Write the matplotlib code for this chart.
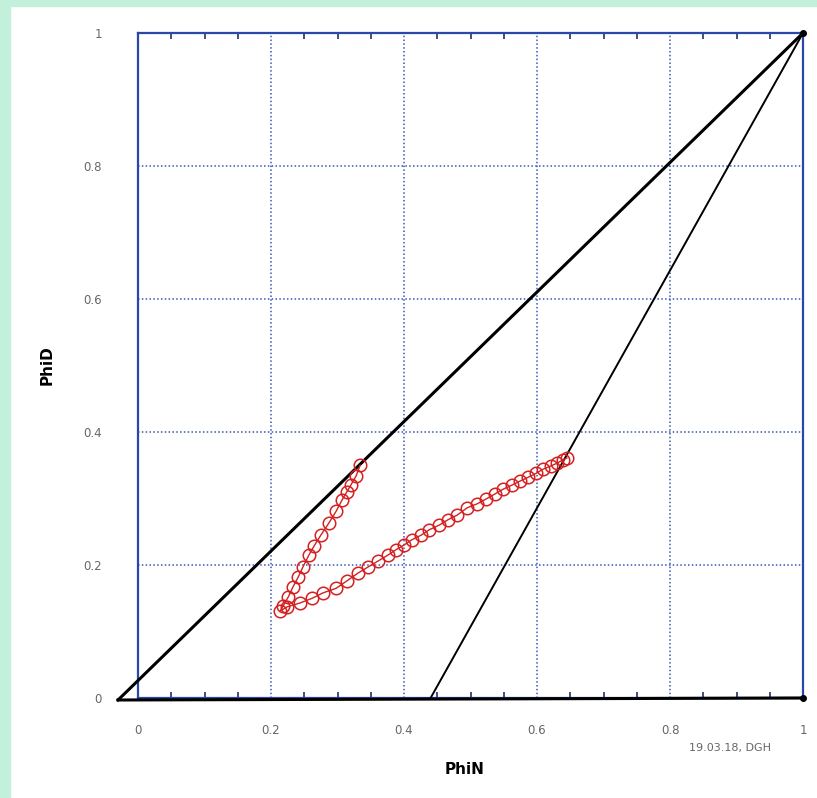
import matplotlib
matplotlib.use("Agg")
import matplotlib.pyplot as plt
from matplotlib.patches import Rectangle
from matplotlib.ticker import MultipleLocator

# ---- data ----
upper_x = [0.334, 0.328, 0.320, 0.314, 0.307, 0.298, 0.287, 0.275, 0.265, 0.257,
           0.248, 0.241, 0.233, 0.226, 0.218]
upper_y = [0.350, 0.334, 0.320, 0.310, 0.298, 0.281, 0.263, 0.245, 0.229, 0.215,
           0.197, 0.182, 0.167, 0.152, 0.138]
lower_x = [0.214, 0.224, 0.244, 0.262, 0.278, 0.298, 0.314, 0.331, 0.346, 0.361,
           0.376, 0.388, 0.400, 0.412, 0.426, 0.438, 0.453, 0.466, 0.480, 0.495,
           0.510, 0.523, 0.537, 0.549, 0.562, 0.574, 0.587, 0.599, 0.609, 0.621,
           0.630, 0.639, 0.645]
lower_y = [0.131, 0.137, 0.143, 0.150, 0.158, 0.165, 0.176, 0.188, 0.197, 0.206,
           0.215, 0.223, 0.230, 0.238, 0.245, 0.253, 0.260, 0.268, 0.275, 0.286,
           0.292, 0.299, 0.307, 0.314, 0.320, 0.326, 0.332, 0.338, 0.344, 0.349,
           0.353, 0.358, 0.361]
path_x = upper_x + lower_x
path_y = upper_y + lower_y

# reference lines
sand_x = [-0.03, 1.0]
sand_y = [-0.003, 1.0]
shale_x = [-0.03, 1.0]
shale_y = [-0.003, 0.0]
dolo_x = [0.44, 1.0]
dolo_y = [0.0, 1.0]

ticks = [0, 0.2, 0.4, 0.6, 0.8, 1]
tick_labels = ["0", "0.2", "0.4", "0.6", "0.8", "1"]

W, H = 817, 798
fig = plt.figure(figsize=(W / 100, H / 100), dpi=100)
fig.patch.set_facecolor("white")
green = "#c2f0da"
fig.patches.append(Rectangle((0, 0), 10 / W, 1, transform=fig.transFigure,
                             color=green, zorder=0))
fig.patches.append(Rectangle((0, 1 - 6 / H), 1, 6 / H, transform=fig.transFigure,
                             color=green, zorder=0))

ax = fig.add_axes([138 / W, 1 - 698 / H, 665 / W, 665 / H])
ax.set_xlim(0, 1)
ax.set_ylim(0, 1)

blue = "#2a48a8"
for s in ax.spines.values():
    s.set_color(blue)
    s.set_linewidth(1.6)

ax.set_xticks(ticks)
ax.set_xticklabels(tick_labels)
ax.set_yticks(ticks)
ax.set_yticklabels(tick_labels)
ax.xaxis.set_minor_locator(MultipleLocator(0.05))
ax.tick_params(axis="x", which="major", direction="in", length=0, pad=19,
               labelsize=8.5, labelcolor="#666666", top=True)
ax.tick_params(axis="x", which="minor", direction="in", length=4, width=1.2,
               color="#20306a", top=True, bottom=True)
ax.tick_params(axis="y", which="major", direction="in", length=0, pad=26,
               labelsize=8.5, labelcolor="#666666")
ax.grid(True, which="major", color="#3a58b8", linestyle=(0, (1, 1.5)), linewidth=1.1)

ax.plot(sand_x, sand_y, color="black", lw=2.2, clip_on=False, zorder=3)
ax.plot(shale_x, shale_y, color="black", lw=2.2, clip_on=False, zorder=3)
ax.plot(dolo_x, dolo_y, color="black", lw=1.4, clip_on=False, zorder=3)
ax.plot([1, 1], [0, 1], ls="none", marker="o", ms=4, color="black",
        clip_on=False, zorder=4)

ax.plot(path_x, path_y, color="#d42020", lw=1.0, marker="o", ms=9,
        mfc="none", mec="#d42020", mew=1.1, zorder=5)

fig.text(465 / W, 1 - 770 / H, "PhiN", ha="center", va="center",
         fontsize=11, fontweight="bold")
fig.text(47 / W, 1 - 365 / H, "PhiD", ha="center", va="center",
         fontsize=11, fontweight="bold", rotation=90)
fig.text(730 / W, 1 - 748 / H, "19.03.18, DGH", ha="center", va="center",
         fontsize=8, color="#666666")

fig.savefig("out.png", dpi=100, facecolor=fig.get_facecolor())
